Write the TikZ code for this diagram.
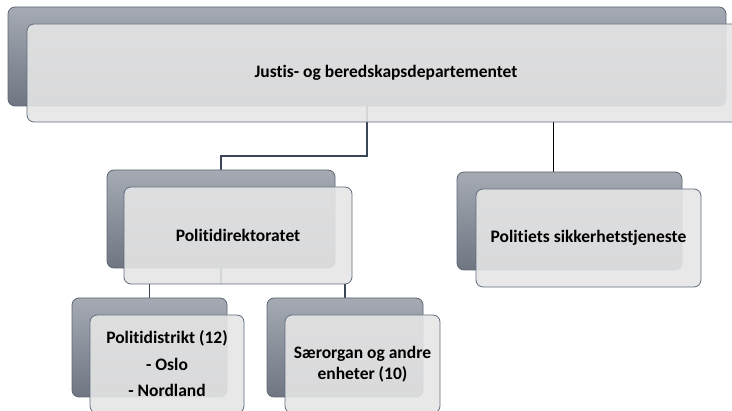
\documentclass[tikz,border=0pt]{standalone}
\usepackage{fontspec}
\setmainfont{Carlito}[Ligatures={NoCommon}]
\definecolor{backtop}{HTML}{A5AAB3}
\definecolor{backbot}{HTML}{6F7682}
\definecolor{backedge}{HTML}{5E6572}
\definecolor{frontfill}{HTML}{E5E5E5}
\definecolor{frontedge}{HTML}{5F6C7E}
\definecolor{connclr}{HTML}{3A4556}
\pgfdeclarelayer{bg}
\pgfsetlayers{bg,main}
\begin{document}
\begin{tikzpicture}[x=1pt,y=-1pt,
  backbox/.style={draw=backedge, line width=0.8pt, rounded corners=7pt,
    top color=backtop, bottom color=backbot, inner sep=0pt, outer sep=0pt},
  frontbox/.style={draw=frontedge, line width=0.8pt, rounded corners=7pt,
    fill=frontfill, fill opacity=0.9, text opacity=1, inner sep=0pt, outer sep=0pt,
    align=center, font=\fontsize{17.5}{21.5}\selectfont\bfseries},
  conn/.style={draw=connclr, line width=1.5pt},
  thinconn/.style={draw=black, line width=0.9pt}]
\useasboundingbox (0,0) rectangle (732,411);
\clip (0,0) rectangle (732,411);
% back boxes
\node[backbox, minimum width=718pt, minimum height=99pt] (jdB) at (367,56.5) {};
\node[backbox, minimum width=228pt, minimum height=98pt] (pdB) at (221,219) {};
\node[backbox, minimum width=225pt, minimum height=98pt] (pstB) at (569.5,221) {};
\node[backbox, minimum width=155pt, minimum height=99pt] (distB) at (149.5,347.5) {};
\node[backbox, minimum width=156pt, minimum height=99pt] (saerB) at (345,347.5) {};
% front boxes
\node[frontbox, minimum width=718pt, minimum height=98pt] (jd) at (386,73) {Justis- og beredskapsdepartementet};
\node[frontbox, minimum width=228pt, minimum height=97pt] (pd) at (238,235.5) {Politidirektoratet};
\node[frontbox, minimum width=225pt, minimum height=98pt] (pst) at (588.5,238) {Politiets sikkerhetstjeneste};
\node[frontbox, minimum width=154pt, minimum height=98pt] (dist) at (167,364) {Politidistrikt (12)\\[5pt]- Oslo\\[5pt]- Nordland};
\node[frontbox, minimum width=155pt, minimum height=98pt] (saer) at (362.5,364) {Særorgan og andre\\enheter (10)};
% connectors, behind all boxes
\coordinate (elbow) at (0,156);
\coordinate (pstin) at (553,172);
\begin{pgfonlayer}{bg}
  \draw[conn] (jdB.center) |- (pdB.north |- elbow) -- (pdB.north);
  \draw[thinconn] (pstin |- jd.south) -- (pstin);
  \draw[conn] (pdB.center) -- (pdB.center |- pd.south);
  \draw[conn] (distB.north |- pd.south) -- (distB.north);
  \draw[conn] (saerB.north |- pd.south) -- (saerB.north);
\end{pgfonlayer}
\end{tikzpicture}
\end{document}
